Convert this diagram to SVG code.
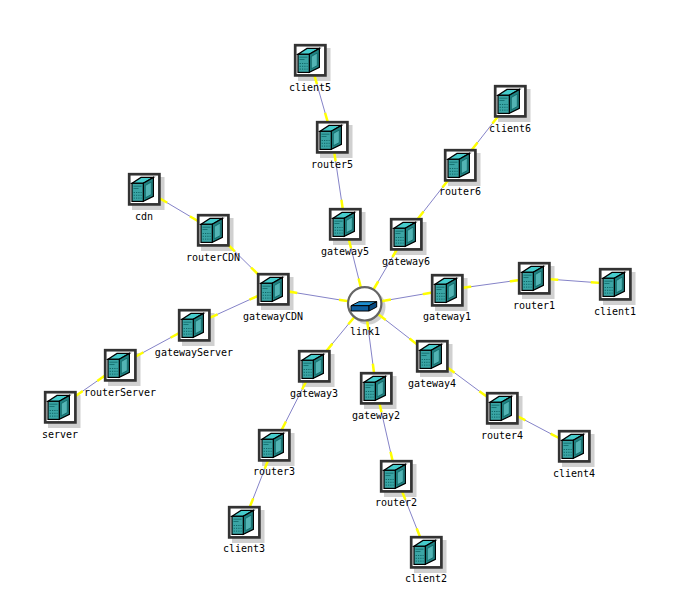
<svg xmlns="http://www.w3.org/2000/svg" xmlns:xlink="http://www.w3.org/1999/xlink" width="675" height="611" viewBox="0 0 675 611">
<style>
text{font-family:"DejaVu Sans Mono","Liberation Mono",monospace;font-size:10px;fill:#000;text-anchor:middle}
.b{stroke:#8583c8;stroke-width:1;fill:none}
.y{stroke:#ffff00;stroke-width:2.5;stroke-linecap:square;fill:none}
.s{fill:#d0d0d0}
</style>
<defs>
<rect id="sh" class="s" x="-12" y="-12" width="32.5" height="33"/>
<g id="srv">
<rect x="-14.8" y="-14.8" width="30.2" height="30.2" fill="#fff" stroke="#333" stroke-width="2.7"/>
<path d="M-12-5.7L-3-11.6H9.4L-.7-5.7Z" fill="#46cccc" stroke="#000" stroke-width="1.2"/>
<path d="M-.7-5.7L9.4-11.6V7.4L-.7 12.4Z" fill="#1f8282" stroke="#000" stroke-width="1.2"/>
<path d="M1.3-3.5L7.3-7V5.6L1.3 8.8Z" fill="#52b4b4" stroke="#0c5c5c" stroke-width=".7"/>
<rect x="-12" y="-5.7" width="11.3" height="18.1" fill="#3aa5a5" stroke="#000" stroke-width="1.2"/>
<path d="M-10.3 3.5h1.2M-8 3.5h1.2M-5.7 3.5h1.2M-3.4 3.5h1M-10.3 6.3h1.2M-8 6.3h1.2M-5.7 6.3h1.2M-3.4 6.3h1M-10.3 9.1h1.2M-8 9.1h1.2M-5.7 9.1h1.2M-3.4 9.1h1" stroke="#0a5f5f" stroke-width=".9"/>
<path d="M-10.5-2.8h8M-10.5-.5h5" stroke="#0a5f5f" stroke-width=".7"/>
</g>
</defs>
<g id="shadows">
<use href="#sh" x="310" y="60"/><use href="#sh" x="332" y="137"/><use href="#sh" x="345" y="224"/><use href="#sh" x="510" y="101"/><use href="#sh" x="460" y="165"/><use href="#sh" x="406" y="234"/><use href="#sh" x="144" y="189"/><use href="#sh" x="213" y="230"/><use href="#sh" x="273" y="289"/><use href="#sh" x="194" y="325"/><use href="#sh" x="120" y="365"/><use href="#sh" x="60" y="407"/><use href="#sh" x="314" y="366"/><use href="#sh" x="274" y="445"/><use href="#sh" x="244" y="522"/><use href="#sh" x="376" y="388"/><use href="#sh" x="396" y="476"/><use href="#sh" x="426" y="552"/><use href="#sh" x="432" y="356"/><use href="#sh" x="502" y="408"/><use href="#sh" x="574" y="446"/><use href="#sh" x="447" y="290"/><use href="#sh" x="534" y="278"/><use href="#sh" x="615" y="284"/>
<circle class="s" cx="368" cy="307" r="17.5"/>
</g>
<g id="connectors">
<path class="b" d="M310 60L332 137M332 137L345 224M345 224L365 304M510 101L460 165M460 165L406 234M406 234L365 304M144 189L213 230M213 230L273 289M273 289L365 304M273 289L194 325M194 325L120 365M120 365L60 407M365 304L314 366M314 366L274 445M274 445L244 522M365 304L376 388M376 388L396 476M396 476L426 552M365 304L432 356M432 356L502 408M502 408L574 446M365 304L447 290M447 290L534 278M534 278L615 284"/>
<path class="y" d="M314.6 76L316.6 83M327.4 121L325.4 114M334.4 153L335.4 160M342.6 208L341.6 201M349 240L350.7 247M360.6 286.5L358.9 279.7M497.5 117L493.2 122.5M472.5 149L476.8 143.5M447.5 181L443.2 186.5M418.5 218L422.8 212.5M396.6 250L393.1 256M374.1 288.5L377.6 282.5M160 198.5L166 202M197 220.5L191 217M229 245.7L234 250.6M257 273.3L252 268.4M289 291.6L296 292.7M347.2 301.1L340.3 300M257 296.3L250.6 299.2M210 317.7L216.4 314.8M178 333.7L171.8 337M136 356.3L142.2 353M104 376.2L98.3 380.2M76 395.8L81.7 391.8M353.6 317.9L349.1 323.3M327.2 350L331.6 344.6M305.9 382L302.7 388.2M282.1 429L285.3 422.8M267.8 461L265.2 467.5M250.2 506L252.8 499.5M367.3 321.9L368.3 328.8M373.9 372L373 365M379.6 404L381.2 411M392.4 460L390.8 453M402.3 492L404.9 498.5M419.7 536L417.1 529.5M379.2 315L384.8 319.3M416 343.6L410.5 339.3M448 367.9L453.6 372M486 396.1L480.4 392M518 416.5L524.2 419.7M558 437.5L551.8 434.3M382.7 301L389.6 299.8M431 292.7L424 293.9M463 287.8L470 286.8M518 280.2L511 281.2M550 279.2L557 279.7M599 282.8L592 282.3"/>
</g>
<g id="client5"><use href="#srv" x="310" y="60"/><text x="310" y="91">client5</text></g>
<g id="router5"><use href="#srv" x="332" y="137"/><text x="332" y="168">router5</text></g>
<g id="gateway5"><use href="#srv" x="345" y="224"/><text x="345" y="255">gateway5</text></g>
<g id="client6"><use href="#srv" x="510" y="101"/><text x="510" y="132">client6</text></g>
<g id="router6"><use href="#srv" x="460" y="165"/><text x="460" y="195">router6</text></g>
<g id="gateway6"><use href="#srv" x="406" y="234"/><text x="406" y="265">gateway6</text></g>
<g id="cdn"><use href="#srv" x="144" y="189"/><text x="144" y="220">cdn</text></g>
<g id="routerCDN"><use href="#srv" x="213" y="230"/><text x="213" y="261">routerCDN</text></g>
<g id="gatewayCDN"><use href="#srv" x="273" y="289"/><text x="273" y="320">gatewayCDN</text></g>
<g id="gatewayServer"><use href="#srv" x="194" y="325"/><text x="194" y="356">gatewayServer</text></g>
<g id="routerServer"><use href="#srv" x="120" y="365"/><text x="120" y="396">routerServer</text></g>
<g id="server"><use href="#srv" x="60" y="407"/><text x="60" y="438">server</text></g>
<g id="gateway3"><use href="#srv" x="314" y="366"/><text x="314" y="397">gateway3</text></g>
<g id="router3"><use href="#srv" x="274" y="445"/><text x="274" y="475">router3</text></g>
<g id="client3"><use href="#srv" x="244" y="522"/><text x="244" y="552">client3</text></g>
<g id="gateway2"><use href="#srv" x="376" y="388"/><text x="376" y="419">gateway2</text></g>
<g id="router2"><use href="#srv" x="396" y="476"/><text x="396" y="506">router2</text></g>
<g id="client2"><use href="#srv" x="426" y="552"/><text x="426" y="582">client2</text></g>
<g id="gateway4"><use href="#srv" x="432" y="356"/><text x="432" y="387">gateway4</text></g>
<g id="router4"><use href="#srv" x="502" y="408"/><text x="502" y="439">router4</text></g>
<g id="client4"><use href="#srv" x="574" y="446"/><text x="574" y="477">client4</text></g>
<g id="gateway1"><use href="#srv" x="447" y="290"/><text x="447" y="320">gateway1</text></g>
<g id="router1"><use href="#srv" x="534" y="278"/><text x="534" y="309">router1</text></g>
<g id="client1"><use href="#srv" x="615" y="284"/><text x="615" y="315">client1</text></g>
<g id="link1">
<circle cx="364.7" cy="303.8" r="16.7" fill="#fff" stroke="#666" stroke-width="2.2"/>
<path d="M351 305.7L359 301.7H376.7L369 305.7Z" fill="#1f8fd0" stroke="#000" stroke-width="1"/>
<path d="M351 305.7H369V311H351Z" fill="#0e5f9f" stroke="#000" stroke-width="1"/>
<path d="M369 305.7L376.7 301.7V307L369 311Z" fill="#0a4a80" stroke="#000" stroke-width="1"/>
<text x="365" y="335">link1</text>
</g>
</svg>
